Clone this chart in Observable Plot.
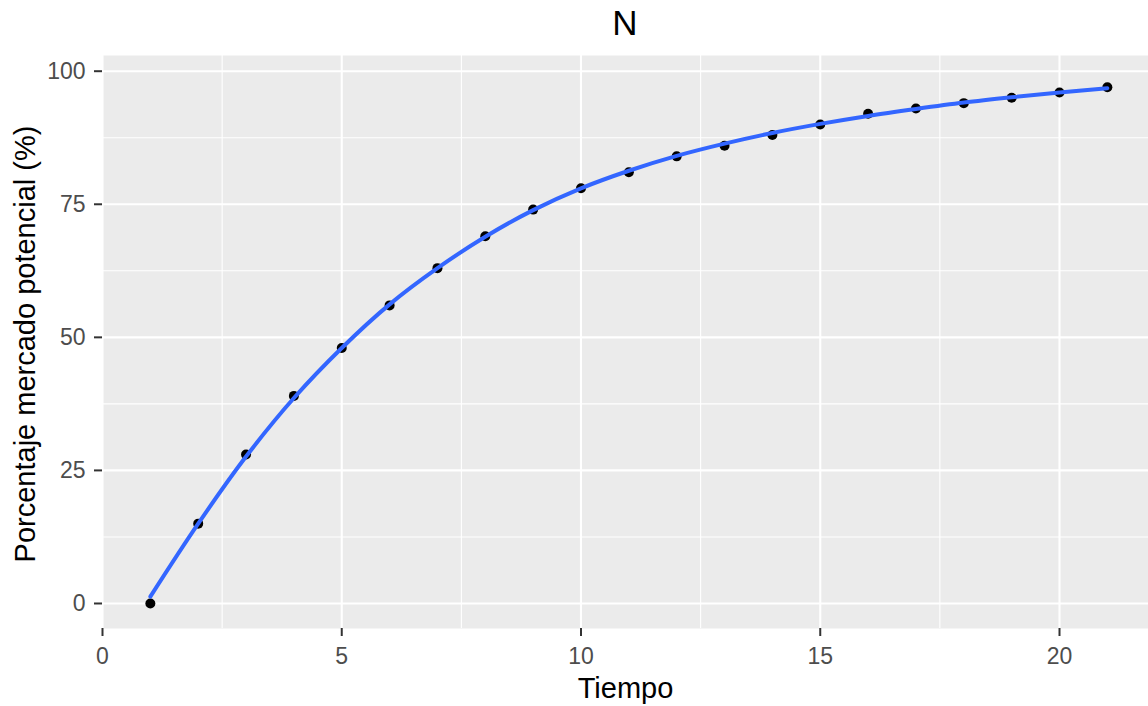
<!DOCTYPE html>
<html><head><meta charset="utf-8">
<script src="https://cdn.jsdelivr.net/npm/d3@7"></script>
<script src="https://cdn.jsdelivr.net/npm/@observablehq/plot@0.6"></script>
<style>
body{margin:0;background:#fff;font-family:"Liberation Sans",Arial,sans-serif}
#title{height:50px;line-height:46px;padding-left:102px;width:1046px;text-align:center;font-size:35px;color:#000;overflow:hidden}
#chart svg{display:block}
</style></head><body>
<div id="title">N</div>
<div id="chart"></div>
<script>
const tiempo = [1,2,3,4,5,6,7,8,9,10,11,12,13,14,15,16,17,18,19,20,21];
const porcentaje = [0,15,28,39,48,56,63,69,74,78,81,84,86,88,90,92,93,94,95,96,97];
const ajuste = [1.3,15.0,27.6,38.6,48.0,56.2,63.0,68.9,73.9,78.0,81.3,84.1,86.4,88.4,90.1,91.6,92.9,94.1,95.1,96.0,96.8];
const xTicks = [0,5,10,15,20];
const xMinor = [2.5,7.5,12.5,17.5];
const yTicks = [0,25,50,75,100];
const yMinor = [12.5,37.5,62.5,87.5];
const xTitle = "Tiempo";
const yTitle = "Porcentaje mercado potencial (%)";

const puntos = tiempo.map((t,i)=>({t, v: porcentaje[i]}));
const curva = tiempo.map((t,i)=>({t, v: ajuste[i]}));

const chart = Plot.plot({
  width: 1148,
  height: 656,
  marginLeft: 102,
  marginRight: 0,
  marginTop: 5,
  marginBottom: 78,
  style: {fontFamily: '"Liberation Sans", Arial, sans-serif', background: "white", overflow: "hidden"},
  x: {domain: [0, 21.86], label: null, axis: null},
  y: {domain: [-4.7, 102.95], label: null, axis: null},
  marks: [
    Plot.frame({fill: "#ebebeb", stroke: null}),
    Plot.gridX(xMinor, {stroke: "white", strokeOpacity: 1, strokeWidth: 1.1}),
    Plot.gridY(yMinor, {stroke: "white", strokeOpacity: 1, strokeWidth: 1.1}),
    Plot.gridX(xTicks, {stroke: "white", strokeOpacity: 1, strokeWidth: 2.1}),
    Plot.gridY(yTicks, {stroke: "white", strokeOpacity: 1, strokeWidth: 2.1}),
    Plot.axisX(xTicks, {tickSize: 8, tickPadding: 11, fontSize: 23, fill: "#4d4d4d", stroke: "#333333", strokeWidth: 2, label: null}),
    Plot.axisY(yTicks, {tickSize: 8, tickPadding: 9, fontSize: 23, fill: "#4d4d4d", stroke: "#333333", strokeWidth: 2, label: null}),
    Plot.dot(puntos, {x: "t", y: "v", r: 5, fill: "black", stroke: null}),
    Plot.line(curva, {x: "t", y: "v", stroke: "#3366FF", strokeWidth: 4, curve: "catmull-rom"}),
    Plot.text([xTitle], {frameAnchor: "bottom", textAnchor: "middle", lineAnchor: "middle", dy: 60, fontSize: 29, fill: "black", text: d => d}),
    Plot.text([yTitle], {frameAnchor: "left", textAnchor: "middle", lineAnchor: "middle", dx: -77, dy: 2, rotate: -90, fontSize: 29, fill: "black", text: d => d})
  ]
});
document.getElementById("chart").appendChild(chart);
</script>
</body></html>
